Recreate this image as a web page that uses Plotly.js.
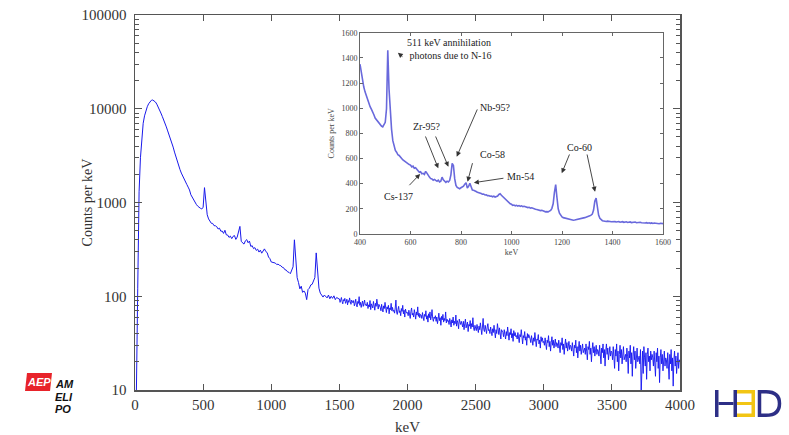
<!DOCTYPE html>
<html><head><meta charset="utf-8">
<script src="https://cdn.plot.ly/plotly-3.0.1.min.js"></script>
<style>html,body{margin:0;padding:0;background:#fff}#chart{width:789px;height:435px}</style>
</head><body><div id="chart"></div><script>
// ---- main spectrum, part 1: counts per keV every 10 keV from 0 to 1500 keV ----
const mainLowStartKeV = 0, mainLowStepKeV = 10;
const mainLowCounts = [
 2, 9, 120, 1300, 3000, 5000, 7000, 8400, 9500, 10500,
 11300, 11900, 12300, 12400, 12200, 11800, 11200, 10500, 9800, 9000,
 8300, 7700, 7000, 6400, 5800, 5300, 4800, 4300, 3900, 3450,
 3050, 2750, 2480, 2250, 2060, 1900, 1780, 1660, 1560, 1460,
 1360, 1210, 1130, 1050, 1005, 955, 915, 885, 868, 852,
 890, 1440, 970, 740, 668, 640, 600, 598, 566, 565,
 552, 522, 532, 494, 496, 468, 506, 452, 450, 424,
 438, 412, 436, 444, 404, 428, 490, 556, 384, 368,
 360, 390, 402, 372, 388, 340, 346, 322, 330, 308,
 318, 296, 310, 288, 304, 320, 300, 292, 262, 252,
 232, 230, 226, 226, 218, 220, 214, 212, 204, 202,
 192, 190, 182, 180, 174, 186, 206, 400, 260, 158,
 140, 120, 128, 110, 114, 108, 92, 118, 122, 132,
 134, 146, 158, 290, 200, 122, 108, 102, 98, 103,
 99, 96, 103, 94, 100, 95, 101, 92, 97, 94,
 93
];
// ---- main spectrum, part 2: counts per keV every 5 keV from 1500 to 4000 keV ----
const mainHighStartKeV = 1500, mainHighStepKeV = 5;
const mainHighCounts = [
 94, 86, 91, 97, 88, 83, 92, 89, 95, 84, 87, 93, 81, 90, 86, 96, 88, 82, 91, 87,
 85, 90, 79, 84, 93, 81, 77, 88, 84, 99, 80, 86, 76, 83, 89, 78, 85, 91, 80, 82,
 79, 86, 74, 81, 77, 90, 72, 83, 79, 75, 88, 80, 71, 84, 78, 93, 76, 73, 82, 79,
 76, 70, 82, 73, 68, 79, 74, 86, 71, 67, 77, 73, 80, 65, 75, 72, 84, 70, 76, 69,
 71, 66, 75, 91, 68, 64, 72, 78, 67, 70, 62, 74, 69, 80, 65, 71, 60, 73, 68, 66,
 67, 62, 71, 64, 58, 69, 75, 63, 66, 60, 72, 65, 57, 68, 63, 77, 61, 66, 59, 64,
 63, 58, 67, 60, 55, 64, 61, 70, 57, 62, 53, 65, 59, 68, 56, 61, 72, 58, 54, 60,
 58, 62, 54, 60, 51, 57, 66, 55, 59, 49, 61, 56, 64, 53, 58, 55, 68, 52, 57, 54,
 55, 50, 58, 53, 47, 56, 52, 60, 49, 54, 51, 63, 48, 55, 52, 45, 57, 53, 50, 54,
 50, 47, 54, 44, 51, 57, 46, 49, 53, 42, 50, 48, 55, 45, 51, 47, 59, 46, 43, 49,
 47, 43, 50, 45, 41, 48, 44, 52, 46, 39, 47, 58, 44, 42, 49, 45, 40, 47, 51, 43,
 44, 40, 47, 42, 38, 45, 41, 49, 43, 36, 44, 40, 51, 42, 39, 46, 41, 35, 44, 42,
 41, 37, 44, 39, 35, 42, 38, 47, 40, 34, 41, 39, 45, 36, 40, 33, 43, 38, 41, 37,
 38, 35, 41, 36, 32, 39, 37, 44, 35, 31, 38, 36, 42, 34, 37, 30, 40, 36, 39, 35,
 35, 32, 38, 34, 30, 36, 33, 41, 32, 29, 35, 34, 39, 31, 34, 28, 37, 33, 36, 32,
 33, 30, 36, 31, 27, 34, 32, 38, 29, 33, 26, 32, 37, 30, 34, 28, 31, 35, 29, 32,
 31, 28, 34, 29, 25, 32, 30, 36, 27, 31, 24, 30, 35, 28, 32, 26, 29, 33, 27, 30,
 29, 26, 32, 27, 23, 30, 28, 34, 25, 29, 22, 28, 33, 26, 30, 24, 27, 31, 25, 28,
 28, 24, 31, 26, 21, 29, 27, 33, 24, 28, 20, 27, 32, 25, 29, 23, 26, 30, 24, 27,
 26, 23, 30, 25, 19, 28, 25, 31, 22, 27, 18, 26, 31, 24, 28, 21, 25, 29, 23, 26,
 25, 21, 29, 24, 17, 27, 23, 31, 20, 26, 16, 24, 30, 22, 27, 19, 25, 29, 21, 24,
 24, 20, 28, 23, 15, 26, 22, 30, 19, 25, 14, 23, 29, 21, 26, 17, 24, 28, 20, 23,
 23, 19, 27, 9, 21, 26, 15, 29, 22, 18, 25, 13, 24, 28, 20, 23, 16, 26, 21, 24,
 22, 18, 26, 21, 14, 25, 20, 28, 17, 23, 12, 22, 27, 19, 24, 16, 21, 26, 18, 22,
 21, 17, 25, 20, 13, 24, 19, 27, 16, 22, 11, 21, 26, 18, 23, 15, 20, 25, 17, 21,
 20
];
// ---- inset: 400-1600 keV, one value every 5 keV ----
const insetStartKeV = 400, insetStepKeV = 5;
const insetCounts = [
 1350, 1285, 1222, 1168, 1130, 1096, 1068, 1040, 1012, 992, 962, 948, 922, 908, 894, 878, 872, 858, 852, 866,
 888, 995, 1460, 1150, 975, 832, 742, 694, 664, 650, 630, 624, 606, 600, 588, 580, 570, 566, 560, 552,
 548, 534, 540, 522, 526, 508, 502, 490, 494, 478, 482, 474, 498, 484, 462, 452, 440, 438, 428, 434,
 426, 420, 428, 414, 420, 452, 430, 416, 410, 420, 414, 426, 470, 562, 545, 440, 386, 370, 366, 360,
 368, 372, 380, 396, 408, 366, 378, 404, 370, 350, 348, 340, 338, 332, 330, 324, 322, 316, 318, 310,
 312, 304, 306, 300, 302, 296, 300, 294, 298, 302, 314, 320, 308, 298, 292, 278, 268, 256, 250, 240,
 236, 228, 230, 224, 228, 222, 226, 220, 224, 218, 220, 216, 218, 210, 212, 206, 208, 202, 200, 196,
 194, 190, 192, 186, 188, 182, 180, 176, 178, 176, 182, 188, 204, 240, 330, 392, 290, 200, 165, 145,
 136, 130, 127, 124, 122, 118, 116, 114, 112, 110, 112, 114, 116, 118, 117, 121, 124, 128, 130, 134,
 136, 140, 144, 150, 158, 190, 260, 286, 210, 150, 124, 112, 106, 104, 101, 100, 102, 98, 100, 97,
 99, 96, 98, 95, 97, 99, 94, 96, 98, 93, 95, 97, 92, 94, 96, 91, 94, 92, 95, 90,
 92, 89, 93, 90, 88, 91, 87, 90, 86, 89, 85, 88, 84, 87, 85, 83, 86, 82, 85, 81,
 82
];
const mainXTicks = [0, 500, 1000, 1500, 2000, 2500, 3000, 3500, 4000];
const mainYTicks = [10, 100, 1000, 10000, 100000];
const insetXTicks = [400, 600, 800, 1000, 1200, 1400, 1600];
const insetYTicks = [0, 200, 400, 600, 800, 1000, 1200, 1400, 1600];
// peak labels in the inset (keV, counts)
const peakLabels = [
 {text: '511 keV annihilation<br> photons due to N-16', x: 578, y: 1472, left: true},
 {text: 'Zr-95?', x: 667, y: 853},
 {text: 'Nb-95?', x: 935, y: 1002},
 {text: 'Co-58', x: 925, y: 628},
 {text: 'Mn-54', x: 1034, y: 456},
 {text: 'Cs-137', x: 552, y: 297},
 {text: 'Co-60', x: 1271, y: 684}
];
// arrows: tail (tx,ty) -> head (hx,hy) in keV / counts
const peakArrows = [
 {tx: 574, ty: 1400, hx: 550, hy: 1440},
 {tx: 657, ty: 787, hx: 710, hy: 522},
 {tx: 697, ty: 787, hx: 750, hy: 535},
 {tx: 867, ty: 1002, hx: 783, hy: 615},
 {tx: 847, ty: 575, hx: 826, hy: 416},
 {tx: 974, ty: 445, hx: 851, hy: 408},
 {tx: 590, ty: 376, hx: 638, hy: 477},
 {tx: 1232, ty: 644, hx: 1199, hy: 483},
 {tx: 1298, ty: 644, hx: 1331, hy: 336}
];

const W = 789, H = 435;
const px = x => x / W, py = y => 1 - y / H;
const serif = 'Liberation Serif, Times New Roman, serif';
const sans = 'Liberation Sans, Arial, sans-serif';

const minorVals = [];
for (let d = 10; d < 100000; d *= 10) for (let k = 2; k <= 9; k++) minorVals.push(k * d);

const traces = [
 {type: 'scatter', mode: 'lines', x0: mainLowStartKeV, dx: mainLowStepKeV, y: mainLowCounts,
  xaxis: 'x', yaxis: 'y', line: {color: 'rgb(25,25,235)', width: 1}, hoverinfo: 'skip'},
 {type: 'scatter', mode: 'lines', x0: mainHighStartKeV, dx: mainHighStepKeV, y: mainHighCounts,
  xaxis: 'x', yaxis: 'y', line: {color: 'rgb(20,20,240)', width: 0.9}, hoverinfo: 'skip'},
 {type: 'scatter', mode: 'lines', x0: insetStartKeV, dx: insetStepKeV, y: insetCounts,
  xaxis: 'x2', yaxis: 'y2', line: {color: 'rgb(105,105,220)', width: 1.6}, hoverinfo: 'skip'}
];

const annotations = [];
peakLabels.forEach(p => annotations.push({
 xref: 'x2', yref: 'y2', x: p.x, y: p.y, text: p.text, showarrow: false,
 xanchor: p.left ? 'left' : 'center', yanchor: 'middle', align: 'left',
 font: {family: serif, size: 10, color: '#222'}
}));
peakArrows.forEach(a => annotations.push({
 xref: 'x2', yref: 'y2', axref: 'x2', ayref: 'y2', x: a.hx, y: a.hy, ax: a.tx, ay: a.ty,
 text: '', showarrow: true, arrowhead: 2, arrowsize: 1.1, arrowwidth: 0.9, arrowcolor: '#333'
}));
// logos
annotations.push({xref: 'paper', yref: 'paper', x: px(38.5), y: py(382), xanchor: 'center', yanchor: 'middle',
 text: '<b><i>AEP</i></b>', showarrow: false, font: {family: sans, size: 11, color: '#fff'}});
[['AM', 384], ['ELI', 396.5], ['PO', 408.5]].forEach(t => annotations.push({
 xref: 'paper', yref: 'paper', x: px(53), y: py(t[1]), xanchor: 'left', yanchor: 'middle',
 text: '<b><i>' + t[0] + '</i></b>', showarrow: false, font: {family: sans, size: 11, color: '#111'}}));

const navy = '#2d2f86', yellow = '#f2c514';
const rect = (x0, y0, x1, y1, c) => ({type: 'rect', xref: 'paper', yref: 'paper', x0: px(x0), x1: px(x1),
 y0: py(y1), y1: py(y0), fillcolor: c, line: {width: 0}});
const shapes = [
 {type: 'path', xref: 'paper', yref: 'paper', fillcolor: '#e8232a', line: {width: 0},
  path: `M ${px(27)} ${py(373)} L ${px(52)} ${py(373)} L ${px(50)} ${py(391)} L ${px(25)} ${py(391)} Z`},
 rect(715, 390, 718.5, 417, navy), rect(733.5, 390, 737, 417, navy), rect(718.5, 402, 733.5, 405, navy),
 rect(737, 390, 755, 393.5, yellow), rect(737, 402, 755, 405, yellow), rect(737, 413.5, 755, 417, yellow),
 rect(751.5, 390, 755, 417, yellow),
 {type: 'path', xref: 'paper', yref: 'paper', line: {color: navy, width: 3.5}, fillcolor: 'rgba(0,0,0,0)',
  path: `M ${px(759.5)} ${py(391.7)} L ${px(759.5)} ${py(415.3)} L ${px(766)} ${py(415.3)} Q ${px(779.5)} ${py(415.3)} ${px(779.5)} ${py(403.5)} Q ${px(779.5)} ${py(391.7)} ${px(766)} ${py(391.7)} Z`}
];

const axLine = '#555';
const layout = {
 width: W, height: H, margin: {l: 0, r: 0, t: 0, b: 0},
 paper_bgcolor: '#fff', plot_bgcolor: 'rgba(0,0,0,0)', showlegend: false,
 xaxis: {domain: [px(135), px(680)], anchor: 'y', range: [0, 4000], tickvals: mainXTicks,
  ticktext: mainXTicks.map(String), ticks: 'inside', ticklen: 6, tickwidth: 1, tickcolor: axLine,
  showline: true, linecolor: axLine, linewidth: 1.5, mirror: 'allticks', showgrid: false, zeroline: false,
  tickfont: {family: serif, size: 15, color: '#333'}, ticklabelstandoff: 0,
  title: {text: 'keV', standoff: 26, font: {family: serif, size: 15, color: '#333'}}},
 yaxis: {domain: [py(390), py(15)], anchor: 'x', type: 'log', range: [1, 5], tickvals: mainYTicks,
  ticktext: mainYTicks.map(String), ticks: 'inside', ticklen: 7, tickwidth: 1, tickcolor: axLine,
  minor: {tickvals: minorVals, ticks: 'inside', ticklen: 4, tickcolor: axLine, showgrid: false},
  showline: true, linecolor: axLine, linewidth: 1.5, mirror: 'allticks', showgrid: false, zeroline: false,
  tickfont: {family: serif, size: 15, color: '#333'}, ticklabelstandoff: 4,
  title: {text: 'Counts per keV', font: {family: serif, size: 14, color: '#333'}}},
 xaxis2: {domain: [px(360), px(663)], anchor: 'y2', range: [400, 1600], tickvals: insetXTicks,
  ticktext: insetXTicks.map(String), ticks: 'inside', ticklen: 3, tickcolor: '#666',
  showline: true, linecolor: '#666', linewidth: 1, mirror: 'allticks', showgrid: false, zeroline: false,
  tickfont: {family: serif, size: 8, color: '#444'},
  title: {text: 'keV', standoff: 3, font: {family: serif, size: 8, color: '#444'}}},
 yaxis2: {domain: [py(234), py(32.7)], anchor: 'x2', range: [0, 1600], tickvals: insetYTicks,
  ticktext: insetYTicks.map(String), ticks: 'inside', ticklen: 3, tickcolor: '#666',
  showline: true, linecolor: '#666', linewidth: 1, mirror: 'allticks', showgrid: false, zeroline: false,
  tickfont: {family: serif, size: 8, color: '#444'},
  title: {text: 'Counts per keV', font: {family: serif, size: 8, color: '#444'}}},
 annotations: annotations, shapes: shapes
};
Plotly.newPlot('chart', traces, layout, {staticPlot: true, displayModeBar: false});
</script></body></html>
